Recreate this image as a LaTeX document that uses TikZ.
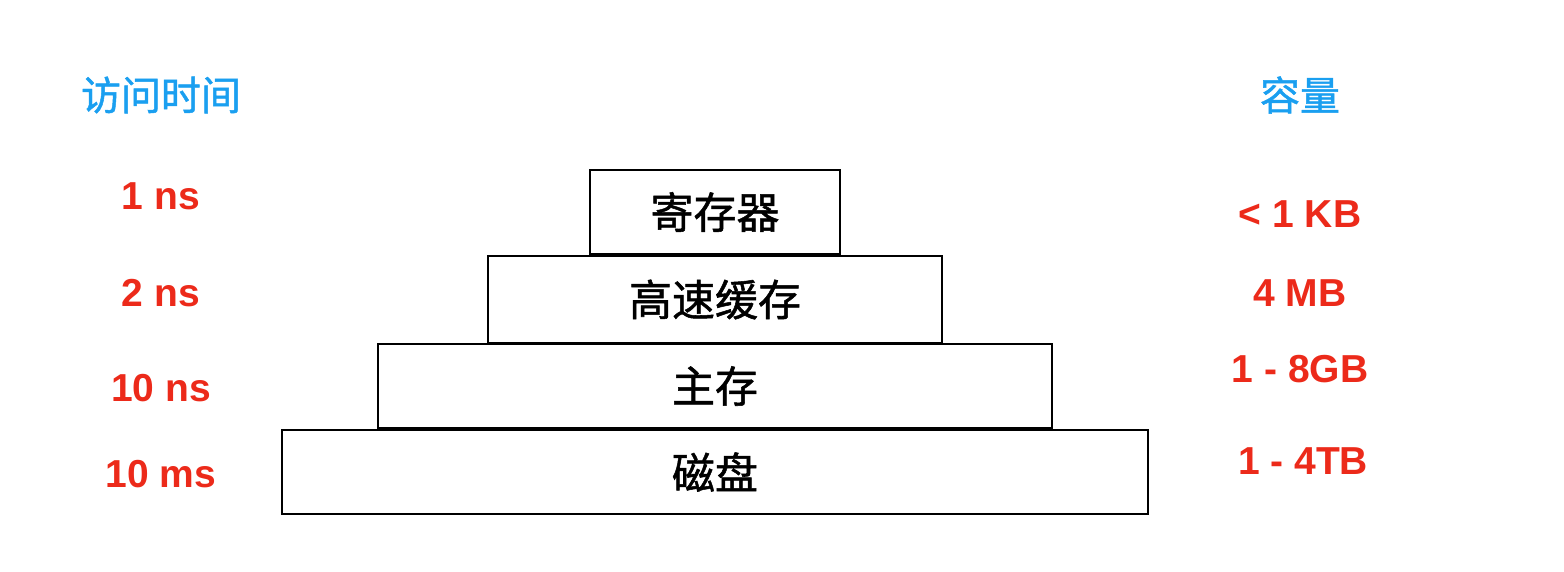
\documentclass[tikz,border=0pt]{standalone}
\usepackage{fontspec}
\setmainfont{Liberation Sans}
\newfontfamily\cjk[FakeBold=1.2]{Noto Sans CJK SC}
\definecolor{hdblue}{HTML}{1A9FF0}
\definecolor{valred}{HTML}{EC2A1A}
\begin{document}
\begin{tikzpicture}[x=1pt,y=-1pt,
  level/.style={draw=black,line width=2pt,inner sep=0pt,font=\cjk\fontsize{43}{43}\selectfont},
  header/.style={text=hdblue,font=\cjk\fontsize{40}{40}\selectfont},
  val/.style={text=valred,font=\bfseries\fontsize{39}{39}\selectfont}]
\useasboundingbox (0,0) rectangle (1564,572);
\node[level,minimum width=250pt,minimum height=84pt] (reg) at (715,212) {寄存器};
\node[level,minimum width=454pt,minimum height=87pt] (cache) at (715,299.5) {高速缓存};
\node[level,minimum width=674pt,minimum height=84pt] (mem) at (715,386) {主存};
\node[level,minimum width=866pt,minimum height=84pt] (disk) at (715,472) {磁盘};
\node[header] (th) at (161,95) {访问时间};
\node[header] (ch) at (1300,95) {容量};
\node[val] (t1) at (161,196) {1 ns};
\node[val] (t2) at (161,293) {2 ns};
\node[val] (t3) at (161,388) {10 ns};
\node[val] (t4) at (161,474) {10 ms};
\node[val] (c1) at (1300,214) {< 1 KB};
\node[val] (c2) at (1300,293) {4 MB};
\node[val] (c3) at (1300,369) {1 - 8GB};
\node[val] (c4) at (1303,461) {1 - 4TB};
\end{tikzpicture}
\end{document}
